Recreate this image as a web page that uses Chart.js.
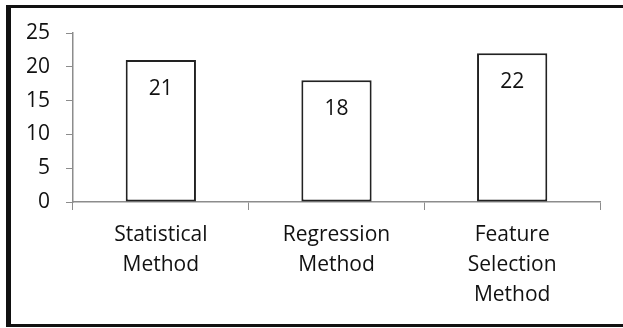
<!DOCTYPE html>
<html>
<head>
<meta charset="utf-8">
<script src="https://cdn.jsdelivr.net/npm/chart.js@4/dist/chart.umd.min.js"></script>
<style>
  html, body { margin: 0; padding: 0; background: #fff; width: 623px; height: 328px; overflow: hidden; }
  #frame {
    position: absolute; left: 6px; top: 5px; width: 640px; height: 316px;
    border-top: 3px solid #111; border-left: 5px solid #111; border-bottom: 3px solid #111;
  }
  #chart { position: absolute; left: 0; top: 0; }
</style>
</head>
<body>
<div id="frame"></div>
<canvas id="chart" width="623" height="328"></canvas>
<script>
/* =====================
  Data
===================== */
var categories = [['Statistical', 'Method'], ['Regression', 'Method'], ['Feature', 'Selection', 'Method']]
var counts = [21, 18, 22]
var yTicks = [0, 5, 10, 15, 20, 25]

var axisGray = '#8c8c8c'
var textColor = '#111111'
var fontFamily = '"Open Sans", Lato, sans-serif'
var fontSize = 21

// value labels drawn inside the bars, a bit below the top
var valueLabels = {
  id: 'valueLabels',
  afterDatasetsDraw: function (chart) {
    var ctx = chart.ctx
    var meta = chart.getDatasetMeta(0)
    ctx.save()
    ctx.font = fontSize + 'px ' + fontFamily
    ctx.fillStyle = textColor
    ctx.textAlign = 'center'
    ctx.textBaseline = 'middle'
    meta.data.forEach(function (bar, i) {
      ctx.fillText(String(counts[i]), bar.x, bar.y + 29)
    })
    ctx.restore()
  }
}

var ctx = document.getElementById('chart').getContext('2d')
var barChart = new Chart(ctx, {
  type: 'bar',
  data: {
    labels: categories,
    datasets: [{
      data: counts,
      backgroundColor: '#ffffff',
      borderColor: '#222222',
      borderWidth: 2,
      borderSkipped: false,
      barPercentage: 0.4,
      categoryPercentage: 1
    }]
  },
  options: {
    responsive: false,
    animation: false,
    layout: { padding: { left: 0, top: 33, right: 23, bottom: 0 } },
    plugins: { legend: { display: false }, tooltip: { enabled: false } },
    scales: {
      x: {
        afterFit: function (scale) { scale.height = 126 },
        grid: { drawOnChartArea: false, drawTicks: true, tickLength: 8, color: axisGray, offset: true },
        border: { color: axisGray, width: 1.5 },
        ticks: {
          color: textColor, padding: 10, maxRotation: 0, autoSkip: false,
          font: { family: fontFamily, size: fontSize, lineHeight: 30 / fontSize }
        }
      },
      y: {
        min: 0,
        max: 25,
        afterFit: function (scale) { scale.width = 73 },
        afterBuildTicks: function (scale) {
          scale.ticks = yTicks.map(function (v) { return { value: v } })
        },
        grid: { drawOnChartArea: false, drawTicks: true, tickLength: 7, color: axisGray },
        border: { color: axisGray, width: 1.5 },
        ticks: {
          color: textColor, padding: 16,
          font: { family: fontFamily, size: fontSize }
        }
      }
    }
  },
  plugins: [valueLabels]
})
</script>
</body>
</html>
